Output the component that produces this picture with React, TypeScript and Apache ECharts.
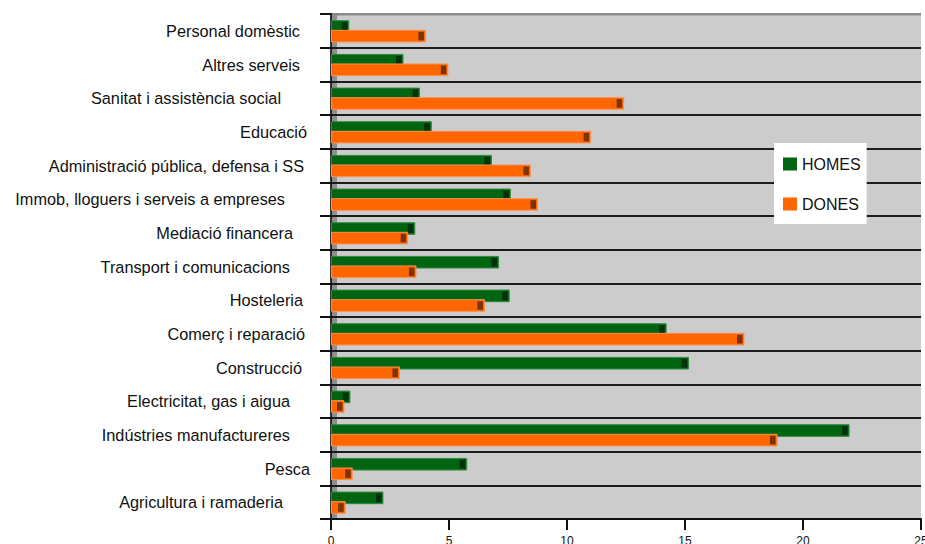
import React, { useEffect, useRef } from "react";
import * as echarts from "echarts";

// Categories, bottom to top
const categories = [
  "Agricultura i ramaderia",
  "Pesca",
  "Indústries manufactureres",
  "Electricitat, gas i aigua",
  "Construcció",
  "Comerç i reparació",
  "Hosteleria",
  "Transport i comunicacions",
  "Mediació financera",
  "Immob, lloguers i serveis a empreses",
  "Administració pública, defensa i SS",
  "Educació",
  "Sanitat i assistència social",
  "Altres serveis",
  "Personal domèstic",
];

const homes = [2.2, 5.75, 21.95, 0.8, 15.15, 14.2, 7.55, 7.1, 3.55, 7.6, 6.8, 4.25, 3.75, 3.05, 0.75];
const dones = [0.6, 0.9, 18.9, 0.55, 2.9, 17.5, 6.5, 3.6, 3.25, 8.75, 8.45, 11.0, 12.4, 4.95, 4.0];

const xTicks = { min: 0, max: 25, interval: 5 };

// label right edge positions (layout only)
const labelRight = [283, 310, 290, 290, 302, 305, 303, 290, 293, 285, 304, 307, 281, 300, 300];

const FONT = "'Liberation Sans', Arial, Helvetica, sans-serif";

const GRID = { left: 331, right: 4, top: 14, bottom: 25 };
const W = 925;
const H = 544;

function makeRender(which: number, fill: string, stroke: string, mark: string) {
  return (params: any, api: any) => {
    const val = api.value(0);
    const cat = api.value(1);
    const start = api.coord([0, cat]);
    const end = api.coord([val, cat]);
    const band = api.size([0, 1])[1];
    const c = start[1];
    let y0: number, y1: number;
    if (which === 0) {
      y0 = c - 0.3 * band;
      y1 = c + 0.045 * band;
    } else {
      y0 = c - 0.015 * band;
      y1 = c + 0.33 * band;
    }
    const x0 = start[0] + 0.5;
    const x1 = end[0];
    return {
      type: "group",
      children: [
        {
          type: "rect",
          shape: { x: x0, y: y0, width: Math.max(0, x1 - x0), height: y1 - y0 },
          style: { fill, stroke, lineWidth: 1 },
        },
        {
          type: "rect",
          shape: { x: x1 - 7, y: y0 + 1.5, width: 5.5, height: y1 - y0 - 3 },
          style: { fill: mark },
        },
      ],
    };
  };
}

export default function App() {
  const ref = useRef<HTMLDivElement>(null);
  useEffect(() => {
    if (!ref.current) return;
    const chart = echarts.init(ref.current, undefined, { renderer: "svg" });
    const rich: any = {};
    labelRight.forEach((r, i) => {
      rich["l" + i] = {
        fontSize: 16.3,
        fontFamily: FONT,
        color: "#111",
        padding: [0, Math.max(0, 327 - r), 0, 0],
      };
    });
    const plotW = W - GRID.left - GRID.right;
    const plotH = H - GRID.top - GRID.bottom;
    const option: any = {
      animation: false,
      backgroundColor: "#ffffff",
      grid: { ...GRID, containLabel: false, outerBoundsMode: "none" },
      graphic: [
        {
          type: "rect",
          z: -10,
          shape: { x: GRID.left, y: GRID.top, width: plotW, height: plotH },
          style: { fill: "#cccccc" },
        },
        {
          type: "rect",
          z: -9,
          shape: { x: GRID.left, y: GRID.top, width: 6, height: plotH },
          style: { fill: "#8f8f8f" },
        },
        {
          type: "rect",
          z: 5,
          shape: { x: GRID.left + 1, y: GRID.top - 1, width: plotW - 1, height: 2.5 },
          style: { fill: "#8a8a8a" },
        },
      ],
      legend: {
        orient: "vertical",
        left: 774,
        top: 143,
        backgroundColor: "#ffffff",
        padding: [13, 6, 12, 9],
        itemWidth: 14,
        itemHeight: 13,
        itemGap: 24,
        icon: "rect",
        data: ["HOMES", "DONES"],
        textStyle: { fontSize: 16, fontFamily: FONT, color: "#111" },
      },
      xAxis: {
        type: "value",
        min: xTicks.min,
        max: xTicks.max,
        interval: xTicks.interval,
        axisLine: { show: true, lineStyle: { color: "#111", width: 2 } },
        axisTick: { show: true, length: 11, lineStyle: { color: "#111", width: 2 } },
        axisLabel: { fontSize: 12, fontFamily: FONT, color: "#111", margin: 16 },
        splitLine: { show: false },
      },
      yAxis: {
        type: "category",
        data: categories,
        boundaryGap: true,
        axisLine: { show: true, onZero: false, lineStyle: { color: "#111", width: 1.7 } },
        axisTick: { show: true, length: 11, interval: 0, lineStyle: { color: "#111", width: 2 } },
        axisLabel: {
          interval: 0,
          margin: 4,
          fontSize: 16.3,
          fontFamily: FONT,
          color: "#111",
          formatter: (value: string, index: number) => `{l${index}|${value}}`,
          rich,
        },
        splitLine: { show: true, interval: 0, lineStyle: { color: "#1c1c1c", width: 2 } },
      },
      series: [
        {
          name: "HOMES",
          type: "custom",
          itemStyle: { color: "#006411" },
          encode: { x: 0, y: 1 },
          data: homes.map((v, i) => [v, i]),
          renderItem: makeRender(0, "#006411", "#2f8a3c", "#00310a"),
          z: 3,
        },
        {
          name: "DONES",
          type: "custom",
          itemStyle: { color: "#ff6600" },
          encode: { x: 0, y: 1 },
          data: dones.map((v, i) => [v, i]),
          renderItem: makeRender(1, "#ff6600", "#ff9050", "#7c3300"),
          z: 4,
        },
      ],
    };
    chart.setOption(option);
    return () => chart.dispose();
  }, []);
  return (
    <div
      ref={ref}
      style={{ position: "absolute", left: 0, top: 0, width: W, height: H }}
    />
  );
}
